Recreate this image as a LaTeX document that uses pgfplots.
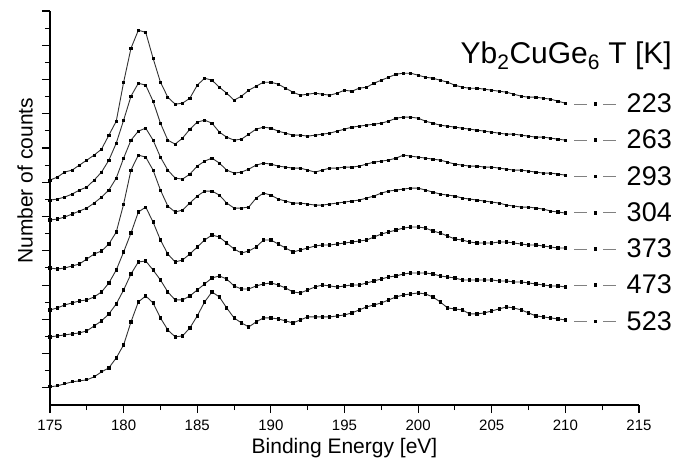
\documentclass[border=0pt]{standalone}
\usepackage{fontspec}
\setmainfont{Liberation Sans}
\usepackage{pgfplots}
\usepackage{pgfplotstable}
\pgfplotsset{compat=1.18}

% spectra, offset vertically (arbitrary counts)
\pgfplotstableread{
x     c1  c2  c3  c4  c5  c6  c7
175.0 208 188 168 120 78  51  1
175.5 211 189 169 119 80  52  2
176.0 216 191 171 120 83  53  4
176.5 218 194 174 122 85  54  6
177.0 223 198 177 124 87  55  7
177.5 228 201 180 129 88  57  8
178.0 233 208 185 134 91  62  11
178.5 239 216 191 137 96  67  16
179.0 253 228 198 144 105 74  20
179.5 267 245 210 156 118 84  30
180.0 306 268 230 184 136 98  43
180.5 340 292 248 218 155 114 66
181.0 358 305 257 233 176 126 86
181.5 356 303 260 231 181 127 92
182.0 330 287 248 218 166 118 85
182.5 306 265 231 198 148 108 70
183.0 291 248 218 182 134 96  58
183.5 284 244 210 176 126 88  51
184.0 285 250 209 178 128 88  52
184.5 290 259 214 185 134 92  60
185.0 303 266 222 192 141 98  72
185.5 310 268 227 197 148 104 86
186.0 308 265 230 197 153 110 96
186.5 301 256 225 193 151 112 91
187.0 295 251 218 185 145 109 80
187.5 288 248 215 180 139 102 70
188.0 292 249 216 180 135 99  65
188.5 298 254 219 181 137 99  61
189.0 302 259 223 190 141 102 66
189.5 306 261 225 195 148 104 70
190.0 306 260 224 193 148 105 70
190.5 304 257 222 189 144 103 69
191.0 300 255 221 187 140 100 67
191.5 296 253 220 185 136 96  65
192.0 293 253 220 185 138 95  68
192.5 294 252 218 184 140 98  71
193.0 295 253 216 183 142 101 71
193.5 294 254 218 183 143 103 71
194.0 293 255 220 184 143 102 71
194.5 295 257 220 185 144 101 72
195.0 298 259 221 186 145 102 73
195.5 297 261 221 187 146 103 75
196.0 300 262 222 188 147 103 78
196.5 301 263 224 190 148 105 81
197.0 305 264 226 192 151 107 83
197.5 308 265 227 195 154 109 85
198.0 311 267 228 197 156 111 88
198.5 314 270 230 198 158 112 91
199.0 315 271 233 199 160 114 93
199.5 315 271 232 200 161 115 94
200.0 313 270 231 200 161 115 95
200.5 311 267 230 198 160 115 94
201.0 310 265 229 196 157 114 91
201.5 308 263 228 194 155 112 86
202.0 306 262 226 193 152 111 80
202.5 303 261 224 192 149 110 79
203.0 301 260 223 190 148 108 78
203.5 300 259 222 189 146 108 74
204.0 300 258 222 188 145 108 74
204.5 299 257 221 187 145 108 75
205.0 298 256 221 186 145 108 77
205.5 297 255 220 185 146 107 79
206.0 296 254 219 183 146 107 81
206.5 294 254 218 182 145 106 80
207.0 292 253 218 181 144 106 78
207.5 291 252 217 181 143 105 75
208.0 291 251 216 180 143 104 72
208.5 290 251 215 179 142 103 71
209.0 289 250 215 177 141 102 70
209.5 287 249 214 176 140 102 69
210.0 285 248 213 175 140 101 68
}\spectra

\pgfplotsset{spec/.style={black!80, line width=0.9pt, solid,
  mark=square*, mark size=1.1pt, mark options={black, fill=black, solid}}}

\begin{document}
\begin{tikzpicture}
\begin{axis}[
  name=ax,
  width=589pt, height=394pt, scale only axis,
  xmin=175, xmax=215, ymin=-17.2, ymax=377.3,
  clip=false,
  axis lines=left,
  axis line style={-, line width=1.1pt},
  xtick={175,180,...,215}, minor x tick num=1,
  ytick={0,34.3,68.6,102.9,137.2,171.5,205.8,240.1,274.4,308.7,343,377.3},
  yticklabels={}, minor y tick num=1,
  tick align=outside,
  major tick length=8pt, minor tick length=5pt,
  every tick/.style={black, line width=1.1pt},
  /pgf/number format/assume math mode=true,
  xticklabel style={font=\fontsize{15}{17}\selectfont, inner sep=0pt},
  xticklabel shift=7pt,
  xlabel={Binding Energy [eV]},
  ylabel={Number of counts},
  label style={font=\fontsize{21}{24}\selectfont, inner sep=0pt},
  xlabel style={at={(axis description cs:0.5,0)}, anchor=north, yshift=-33pt},
  ylabel style={at={(axis description cs:-0.0424,0.569)}, anchor=center},
  legend style={draw=none, fill=none,
    at={(axis description cs:1.056,0.7906)}, anchor=north east,
    font=\fontsize{27}{30}\selectfont,
    inner sep=0pt, row sep=15.9pt,
    nodes={inner sep=0pt},
    /tikz/every odd column/.append style={column sep=10pt}},
  legend cell align=left,
  legend image code/.code={
    \draw[gray, line width=0.6pt] (0pt,0pt) -- (13pt,0pt);
    \fill[black] (19.6pt,-1.4pt) rectangle (22.4pt,1.4pt);
    \draw[gray, line width=0.6pt] (29pt,0pt) -- (42pt,0pt);
  },
]
\addplot[spec] table[x=x, y=c1] {\spectra}; \addlegendentry{223}
\addplot[spec] table[x=x, y=c2] {\spectra}; \addlegendentry{263}
\addplot[spec] table[x=x, y=c3] {\spectra}; \addlegendentry{293}
\addplot[spec] table[x=x, y=c4] {\spectra}; \addlegendentry{304}
\addplot[spec] table[x=x, y=c5] {\spectra}; \addlegendentry{373}
\addplot[spec] table[x=x, y=c6] {\spectra}; \addlegendentry{473}
\addplot[spec] table[x=x, y=c7] {\spectra}; \addlegendentry{523}
\node[anchor=base east, inner sep=0pt, font=\fontsize{30}{32}\selectfont]
  at (axis description cs:1.056,0.868) {Yb\textsubscript{2}CuGe\textsubscript{6} T [K]};
\end{axis}
\pgfresetboundingbox
\path[use as bounding box] ([shift={(-50pt,-54pt)}]ax.south west)
  rectangle ([shift={(34pt,11pt)}]ax.north east);
\end{tikzpicture}
\end{document}
